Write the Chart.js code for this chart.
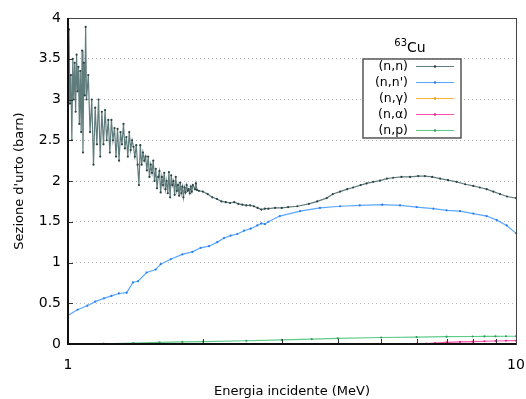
<!DOCTYPE html>
<html>
<head>
<meta charset="utf-8">
<script src="https://cdn.jsdelivr.net/npm/chart.js@4/dist/chart.umd.min.js"></script>
<style>
  html, body { margin: 0; padding: 0; background: #fff; }
  #wrap { width: 526px; height: 399px; }
</style>
</head>
<body>
<div id="wrap"><canvas id="xsChart" width="526" height="399"></canvas></div>
<script>
// incident energy (MeV) and cross sections (barn)
const energyNN = [
  1.000, 1.005, 1.010, 1.015, 1.020, 1.025, 1.030, 1.035, 1.040, 1.045,
  1.050, 1.055, 1.060, 1.065, 1.070, 1.075, 1.080, 1.085, 1.090, 1.095,
  1.100, 1.11, 1.12, 1.13, 1.14, 1.15, 1.16, 1.17, 1.18, 1.19,
  1.20, 1.21, 1.22, 1.23, 1.24, 1.25, 1.26, 1.27, 1.28, 1.29,
  1.30, 1.31, 1.32, 1.33, 1.34, 1.35, 1.36, 1.37, 1.38, 1.39,
  1.40, 1.41, 1.42, 1.43, 1.44, 1.45, 1.46, 1.47, 1.48, 1.49,
  1.50, 1.51, 1.52, 1.53, 1.54, 1.55, 1.56, 1.57, 1.58, 1.59,
  1.60, 1.61, 1.62, 1.63, 1.64, 1.65, 1.66, 1.67, 1.68, 1.69,
  1.70, 1.71, 1.72, 1.73, 1.74, 1.75, 1.76, 1.77, 1.78, 1.79,
  1.80, 1.81, 1.82, 1.83, 1.84, 1.85, 1.86, 1.87, 1.88, 1.89,
  1.90, 1.92, 1.93, 1.94, 1.96, 2.00, 2.05, 2.10, 2.15, 2.20,
  2.25, 2.30, 2.35, 2.40, 2.45, 2.50, 2.55, 2.60, 2.65, 2.70,
  2.75, 2.80, 2.90, 3.00, 3.10, 3.25, 3.45, 3.60, 3.78, 3.90,
  4.05, 4.20, 4.33, 4.50, 4.64, 4.80, 4.97, 5.15, 5.32, 5.55,
  5.80, 6.05, 6.26, 6.50, 6.77, 7.05, 7.37, 7.70, 8.03, 8.30,
  8.60, 8.90, 9.21, 9.55, 10.0
];
const xsNN = [
  3.00, 3.86, 2.95, 3.30, 2.50, 3.50, 3.00, 3.45, 2.85, 3.55,
  3.10, 3.40, 2.70, 3.35, 2.60, 3.60, 2.35, 3.45, 3.05, 3.89,
  3.00, 3.30, 2.60, 3.00, 2.20, 2.90, 2.45, 3.00, 2.30, 2.85,
  2.45, 2.87, 2.50, 2.75, 2.35, 2.75, 2.50, 2.65, 2.30, 2.64,
  2.25, 2.60, 2.45, 2.70, 2.40, 2.54, 2.30, 2.60, 2.38, 2.50,
  2.42, 2.30, 2.44, 2.20, 1.95, 2.44, 2.20, 2.35, 2.25, 2.30,
  2.13, 2.30, 2.05, 2.20, 2.10, 2.25, 2.00, 2.15, 1.91, 2.05,
  2.12, 1.86, 2.05, 1.95, 2.10, 1.90, 2.00, 1.85, 2.11, 1.80,
  2.07, 1.95, 2.00, 1.83, 2.05, 1.88, 1.95, 1.82, 1.98, 1.85,
  1.93, 1.80, 1.92, 1.86, 1.95, 1.88, 1.90, 1.85, 1.93, 1.87,
  1.95, 1.90, 1.97, 1.89, 1.88, 1.87, 1.84, 1.80, 1.78, 1.75,
  1.74, 1.73, 1.74, 1.72, 1.71, 1.70, 1.70, 1.69, 1.67, 1.65,
  1.66, 1.66, 1.67, 1.67, 1.68, 1.69, 1.72, 1.75, 1.79, 1.84,
  1.87, 1.90, 1.92, 1.95, 1.97, 1.99, 2.005, 2.03, 2.04, 2.05,
  2.05, 2.06, 2.06, 2.05, 2.03, 2.01, 1.99, 1.96, 1.94, 1.92,
  1.90, 1.87, 1.84, 1.81, 1.79
];

const energyNNp = [
  1.00, 1.05, 1.104, 1.15, 1.203, 1.25, 1.299, 1.352, 1.396, 1.433,
  1.498, 1.569, 1.61, 1.695, 1.80, 1.895, 1.977, 2.064, 2.154, 2.23,
  2.307, 2.387, 2.471, 2.557, 2.646, 2.70, 2.75, 2.80, 2.97, 3.296,
  3.65, 4.05, 4.48, 5.03, 5.51, 6.0, 6.54, 7.0, 7.5, 8.03,
  8.6, 9.06, 9.53, 10.0
];
const xsNNp = [
  0.35, 0.42, 0.47, 0.52, 0.56, 0.59, 0.62, 0.63, 0.755, 0.77,
  0.877, 0.914, 0.98, 1.04, 1.10, 1.13, 1.18, 1.20, 1.25, 1.30,
  1.33, 1.35, 1.39, 1.415, 1.455, 1.48, 1.47, 1.50, 1.57, 1.63,
  1.67, 1.69, 1.70, 1.71, 1.70, 1.68, 1.66, 1.64, 1.63, 1.60,
  1.57, 1.52, 1.455, 1.36
];

const energyNG = [1.0, 1.2, 1.4, 1.6, 1.8, 2.0, 2.5, 3.0, 4.0, 5.0, 6.0, 7.0, 8.0, 9.0, 10.0];
const xsNG =     [0.004, 0.004, 0.003, 0.003, 0.003, 0.003, 0.003, 0.002, 0.002, 0.002, 0.002, 0.002, 0.002, 0.002, 0.002];

const energyNA = [1.0, 1.5, 2.0, 3.0, 4.0, 5.0, 6.0, 6.3, 6.6, 7.0, 7.5, 8.0, 8.5, 9.0, 9.5, 10.0];
const xsNA =     [0, 0, 0, 0, 0, 0, 0.001, 0.005, 0.012, 0.02, 0.025, 0.03, 0.034, 0.037, 0.04, 0.042];

const energyNP = [1.0, 1.2, 1.4, 1.6, 1.8, 2.0, 2.5, 3.0, 3.5, 4.0, 5.0, 6.0, 7.0, 8.0, 8.5, 9.0, 9.5, 10.0];
const xsNP =     [0.0, 0.002, 0.01, 0.02, 0.025, 0.03, 0.04, 0.05, 0.06, 0.07, 0.08, 0.085, 0.09, 0.092, 0.093, 0.094, 0.095, 0.095];

const seriesLabels = ['(n,n)', "(n,n')", '(n,\u03b3)', '(n,\u03b1)', '(n,p)'];
const legendTitle = ['63', 'Cu'];
const xTickLabels = [1, 10];

const lineColors  = ['rgba(80,110,110,0.9)', '#5aa8ff', '#ffb733', '#ff4fa8', '#5ccb8a'];
const pointColors = ['#2c4343', '#2a7de8', '#e89a10', '#e02a88', '#2f9e60'];

const FONT = '"DejaVu Sans", Verdana, sans-serif';

const toPoints = (xs, ys) => xs.map((x, i) => ({ x: x, y: ys[i] }));

const seriesData = [
    toPoints(energyNN, xsNN),
    toPoints(energyNNp, xsNNp),
    toPoints(energyNG, xsNG),
    toPoints(energyNA, xsNA),
    toPoints(energyNP, xsNP)
];

const datasets = seriesData.map((pts, i) => ({
    label: seriesLabels[i],
    data: pts,
    borderColor: lineColors[i],
    backgroundColor: pointColors[i],
    borderWidth: 1.2,
    pointRadius: 1.1,
    pointBorderWidth: 0,
    pointBackgroundColor: pointColors[i],
    tension: 0,
    fill: false
}));

// frame, inner ticks and the boxed legend
const framePlugin = {
    id: 'frame',
    afterDatasetsDraw(chart) {
        const ctx = chart.ctx;
        const a = chart.chartArea;
        const xs = chart.scales.x;
        const ys = chart.scales.y;
        ctx.save();
        ctx.strokeStyle = '#333';
        ctx.lineWidth = 1;
        // inner ticks on the y axis
        ys.ticks.forEach((t) => {
            const py = Math.round(ys.getPixelForValue(t.value)) + 0.5;
            ctx.beginPath();
            ctx.moveTo(a.left, py);
            ctx.lineTo(a.left + 5, py);
            ctx.stroke();
        });
        // inner minor ticks on the log x axis, whole MeV only
        xs.ticks.forEach((t) => {
            if (Math.abs(t.value - Math.round(t.value)) > 1e-6) return;
            const px = Math.round(xs.getPixelForValue(t.value)) + 0.5;
            ctx.beginPath();
            ctx.moveTo(px, a.bottom);
            ctx.lineTo(px, a.bottom - 5);
            ctx.stroke();
        });
        // box
        ctx.strokeStyle = '#444';
        ctx.lineWidth = 1;
        ctx.strokeRect(a.left + 0.5, a.top + 0.5, a.right - a.left, a.bottom - a.top);
        ctx.strokeStyle = '#111';
        ctx.lineWidth = 2;
        ctx.beginPath();
        ctx.moveTo(a.left, a.top);
        ctx.lineTo(a.left, a.bottom);
        ctx.lineTo(a.right, a.bottom);
        ctx.stroke();
        ctx.restore();
    },
    afterDraw(chart) {
        const ctx = chart.ctx;
        ctx.save();
        // legend title, 63Cu
        ctx.fillStyle = '#000';
        ctx.textBaseline = 'alphabetic';
        ctx.textAlign = 'left';
        ctx.font = '10px ' + FONT;
        const supW = ctx.measureText(legendTitle[0]).width;
        ctx.font = '14px ' + FONT;
        const cuW = ctx.measureText(legendTitle[1]).width;
        const tx = 410 - (supW + cuW) / 2;
        ctx.font = '10px ' + FONT;
        ctx.fillText(legendTitle[0], tx, 45.5);
        ctx.font = '14px ' + FONT;
        ctx.fillText(legendTitle[1], tx + supW, 51.5);

        // legend box
        ctx.fillStyle = '#fff';
        ctx.fillRect(363, 59, 98, 79);
        ctx.strokeStyle = '#555';
        ctx.lineWidth = 1.5;
        ctx.strokeRect(363, 59, 98, 79);

        ctx.font = '12.5px ' + FONT;
        ctx.textAlign = 'right';
        ctx.textBaseline = 'middle';
        chart.data.datasets.forEach((ds, i) => {
            const ry = 66 + i * 16;
            ctx.fillStyle = '#000';
            ctx.fillText(ds.label, 408, ry + 0.5);
            ctx.strokeStyle = ds.borderColor;
            ctx.lineWidth = 1.2;
            ctx.beginPath();
            ctx.moveTo(416, ry + 0.5);
            ctx.lineTo(454, ry + 0.5);
            ctx.stroke();
            ctx.fillStyle = ds.pointBackgroundColor;
            ctx.beginPath();
            ctx.arc(435, ry + 0.5, 1.3, 0, Math.PI * 2);
            ctx.fill();
        });
        ctx.restore();
    }
};

new Chart(document.getElementById('xsChart'), {
    type: 'line',
    data: { datasets: datasets },
    plugins: [framePlugin],
    options: {
        responsive: false,
        animation: false,
        parsing: false,
        normalized: true,
        layout: { padding: { top: 18, right: 10, left: 0, bottom: 0 } },
        plugins: {
            legend: { display: false },
            tooltip: { enabled: false }
        },
        scales: {
            x: {
                type: 'logarithmic',
                min: 1,
                max: 10,
                afterFit: (scale) => {
                    scale.height = 55;
                    scale.paddingLeft = 0;
                    scale.paddingRight = 0;
                },
                border: { display: false },
                grid: { display: false, drawTicks: false },
                ticks: {
                    padding: 13,
                    color: '#000',
                    font: { family: FONT, size: 14 },
                    autoSkip: false,
                    maxRotation: 0,
                    callback: (v) => xTickLabels.includes(v) ? String(v) : ''
                },
                title: {
                    display: true,
                    text: 'Energia incidente (MeV)',
                    color: '#000',
                    font: { family: FONT, size: 13 },
                    padding: { top: 0, bottom: 0 }
                }
            },
            y: {
                min: 0,
                max: 4,
                afterFit: (scale) => { scale.width = 68; },
                border: { display: false, dash: [1, 3] },
                grid: {
                    color: '#b8b8b8',
                    lineWidth: 1,
                    drawTicks: false
                },
                ticks: {
                    stepSize: 0.5,
                    padding: 7,
                    color: '#000',
                    font: { family: FONT, size: 14 },
                    callback: (v) => String(v)
                },
                title: {
                    display: true,
                    text: "Sezione d'urto (barn)",
                    color: '#000',
                    font: { family: FONT, size: 13 },
                    padding: { top: 12, bottom: 0 }
                }
            }
        }
    }
});
</script>
</body>
</html>
